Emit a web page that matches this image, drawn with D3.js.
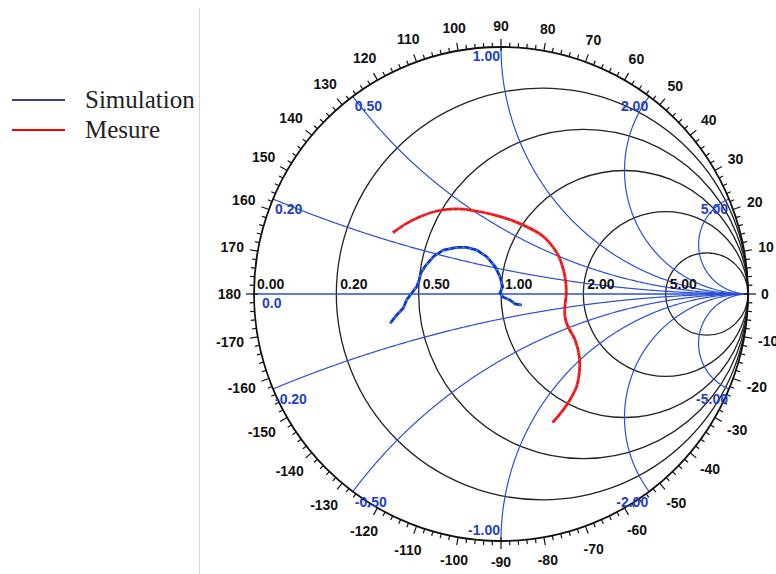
<!DOCTYPE html>
<html>
<head>
<meta charset="utf-8">
<script src="https://cdn.jsdelivr.net/npm/d3@7/dist/d3.min.js"></script>
<style>
  html, body { margin: 0; padding: 0; background: #fff; }
  svg { display: block; }
</style>
</head>
<body>
<svg id="chart" width="776" height="574"></svg>
<script>
// ---- data ----
const resistanceValues = [0.2, 0.5, 1, 2, 5];
const resistanceLabels = ["0.20", "0.50", "1.00", "2.00", "5.00"];
const reactanceValues = [0.2, 0.5, 1, 2, 5, -0.2, -0.5, -1, -2, -5];
const reactanceLabels = ["0.20", "0.50", "1.00", "2.00", "5.00", "-0.20", "-0.50", "-1.00", "-2.00", "-5.00"];
const angleLabels = d3.range(-170, 181, 10);
const seriesNames = ["Simulation", "Mesure"];

// reflection coefficient points [Re, Im]
const simulationGamma = [
  [-0.449, -0.119], [-0.422, -0.085], [-0.396, -0.058], [-0.382, -0.024],
  [-0.362, 0.003], [-0.341, 0.030], [-0.331, 0.057], [-0.325, 0.084],
  [-0.308, 0.111], [-0.274, 0.151], [-0.234, 0.178], [-0.179, 0.189],
  [-0.139, 0.189], [-0.098, 0.178], [-0.058, 0.151], [-0.024, 0.111],
  [-0.004, 0.070], [0.007, 0.030], [-0.004, 0.005], [0.009, -0.013],
  [0.036, -0.024], [0.057, -0.040], [0.084, -0.045]
];
const mesureGamma = [
  [-0.438, 0.248], [-0.382, 0.286], [-0.328, 0.313], [-0.260, 0.336],
  [-0.206, 0.344], [-0.154, 0.344], [-0.085, 0.333], [-0.017, 0.317],
  [0.049, 0.296], [0.104, 0.272], [0.158, 0.243], [0.198, 0.206],
  [0.231, 0.158], [0.251, 0.105], [0.262, 0.050], [0.264, -0.004],
  [0.259, -0.045], [0.259, -0.092], [0.271, -0.132], [0.300, -0.186],
  [0.317, -0.254], [0.317, -0.320], [0.306, -0.375], [0.279, -0.429],
  [0.251, -0.470], [0.209, -0.521]
];

// ---- layout ----
const cx = 501, cy = 294, R = 247;
const svg = d3.select("#chart");
const x = d3.scaleLinear().domain([-1, 1]).range([cx - R, cx + R]);
const y = d3.scaleLinear().domain([-1, 1]).range([cy + R, cy - R]);
const line = d3.line().x(d => x(d[0])).y(d => y(d[1])).curve(d3.curveLinear);
const smooth = d3.line().x(d => x(d[0])).y(d => y(d[1])).curve(d3.curveCatmullRom);

// separator
svg.append("line").attr("x1", 199.5).attr("x2", 199.5).attr("y1", 8).attr("y2", 574)
  .attr("stroke", "#d8d8d8").attr("stroke-width", 1);

const g = svg.append("g");

// resistance circles
g.selectAll("circle.res").data(resistanceValues).join("circle")
  .attr("class", "res")
  .attr("cx", r => x(r / (1 + r))).attr("cy", y(0))
  .attr("r", r => x(1 / (1 + r)) - x(0))
  .attr("fill", "none").attr("stroke", "#222").attr("stroke-width", 1.3);

// reactance arcs
function gammaOf(r, xx) {
  const den = (r + 1) * (r + 1) + xx * xx;
  return [(r * r + xx * xx - 1) / den, (2 * xx) / den];
}
const tSamples = d3.range(0, 0.999, 0.002);
g.selectAll("path.react").data(reactanceValues).join("path")
  .attr("class", "react")
  .attr("d", xx => line(tSamples.map(t => gammaOf(t / (1 - t), xx)).concat([[1, 0]])))
  .attr("fill", "none").attr("stroke", "#2d4fd6").attr("stroke-width", 1.2);

// real axis
g.append("line").attr("x1", x(-1)).attr("x2", x(1)).attr("y1", y(0)).attr("y2", y(0))
  .attr("stroke", "#2d4fd6").attr("stroke-width", 1.6);

// outer circle
g.append("circle").attr("cx", x(0)).attr("cy", y(0)).attr("r", x(1) - x(0))
  .attr("fill", "none").attr("stroke", "#111").attr("stroke-width", 1.8);

// angle ticks
const tickAngles = d3.range(-178, 181, 2);
g.selectAll("line.tick").data(tickAngles).join("line")
  .attr("class", "tick")
  .each(function(a) {
    const rad = a * Math.PI / 180;
    const major = a % 10 === 0;
    const cardinal = a % 90 === 0;
    const r0 = cardinal ? R - 4 : R;
    const r1 = R + (major ? 8 : 4.5);
    d3.select(this)
      .attr("x1", cx + r0 * Math.cos(rad)).attr("y1", cy - r0 * Math.sin(rad))
      .attr("x2", cx + r1 * Math.cos(rad)).attr("y2", cy - r1 * Math.sin(rad));
  })
  .attr("stroke", "#111").attr("stroke-width", 1.2);

// angle labels
const labelFont = "Liberation Sans, Arial, sans-serif";
const angleText = g.selectAll("text.ang").data(angleLabels).join("text")
  .attr("class", "ang")
  .text(d => d)
  .attr("font-family", labelFont)
  .attr("font-weight", "bold").attr("font-size", 14)
  .attr("fill", "#111")
  .attr("text-anchor", "middle").attr("dominant-baseline", "central");
angleText.each(function(a) {
  const rad = a * Math.PI / 180;
  const hw = this.getComputedTextLength() / 2;
  const rho = R + 13 + Math.abs(Math.cos(rad)) * hw + Math.abs(Math.sin(rad)) * 8;
  d3.select(this).attr("x", cx + rho * Math.cos(rad)).attr("y", cy - rho * Math.sin(rad));
});

// resistance labels
g.selectAll("text.resl").data(resistanceValues).join("text")
  .attr("class", "resl")
  .attr("x", r => x((r - 1) / (r + 1)) + 4)
  .attr("y", y(0) - 5)
  .text((r, i) => resistanceLabels[i])
  .attr("font-family", labelFont).attr("font-weight", "bold").attr("font-size", 14)
  .attr("fill", "#111");
g.append("text").attr("x", x(-1) + 3).attr("y", y(0) - 5).text("0.00")
  .attr("font-family", labelFont).attr("font-weight", "bold").attr("font-size", 14).attr("fill", "#111");
g.append("text").attr("x", x(-1) + 8).attr("y", y(0) + 14).text("0.0")
  .attr("font-family", labelFont).attr("font-weight", "bold").attr("font-size", 14).attr("fill", "#1f3fc8");

// reactance labels
g.selectAll("text.reacl").data(reactanceValues).join("text")
  .attr("class", "reacl")
  .each(function(xx, i) {
    const p = gammaOf(0, xx);
    const px = x(p[0]), py = y(p[1]);
    const sel = d3.select(this).text(reactanceLabels[i]);
    if (Math.abs(xx) === 1) {
      sel.attr("x", px - 1).attr("y", xx > 0 ? py + 14 : py - 6).attr("text-anchor", "end");
    } else if (Math.abs(xx) < 1) {
      sel.attr("x", px + 2).attr("y", py + 15).attr("text-anchor", "start");
    } else {
      sel.attr("x", px - 1).attr("y", py + 15).attr("text-anchor", "end");
    }
  })
  .attr("font-family", labelFont).attr("font-weight", "bold").attr("font-size", 14)
  .attr("fill", "#1f3fc8");

// data curves
g.append("path").datum(mesureGamma).attr("d", smooth)
  .attr("fill", "none").attr("stroke", "#ff1010").attr("stroke-width", 2.8);
g.append("path").datum(mesureGamma).attr("d", smooth)
  .attr("fill", "none").attr("stroke", "#3aa6a0").attr("stroke-width", 1)
  .attr("stroke-dasharray", "1.5,5");
g.append("path").datum(simulationGamma).attr("d", line)
  .attr("fill", "none").attr("stroke", "#1030e8").attr("stroke-width", 2.8);
g.append("path").datum(simulationGamma).attr("d", line)
  .attr("fill", "none").attr("stroke", "#30d030").attr("stroke-width", 1.2)
  .attr("stroke-dasharray", "2,5");

// legend
const legendColors = ["#3a3a9c", "#ff0000"];
const legendY = [100, 130];
const leg = svg.append("g");
leg.selectAll("line").data(seriesNames).join("line")
  .attr("x1", 12).attr("x2", 65)
  .attr("y1", (d, i) => legendY[i]).attr("y2", (d, i) => legendY[i])
  .attr("stroke", (d, i) => legendColors[i]).attr("stroke-width", 1.8);
leg.selectAll("text").data(seriesNames).join("text")
  .attr("x", 85).attr("y", (d, i) => legendY[i] + 8)
  .text(d => d)
  .attr("font-family", "Liberation Serif, Times New Roman, serif")
  .attr("font-size", 25).attr("fill", "#222");
</script>
</body>
</html>
